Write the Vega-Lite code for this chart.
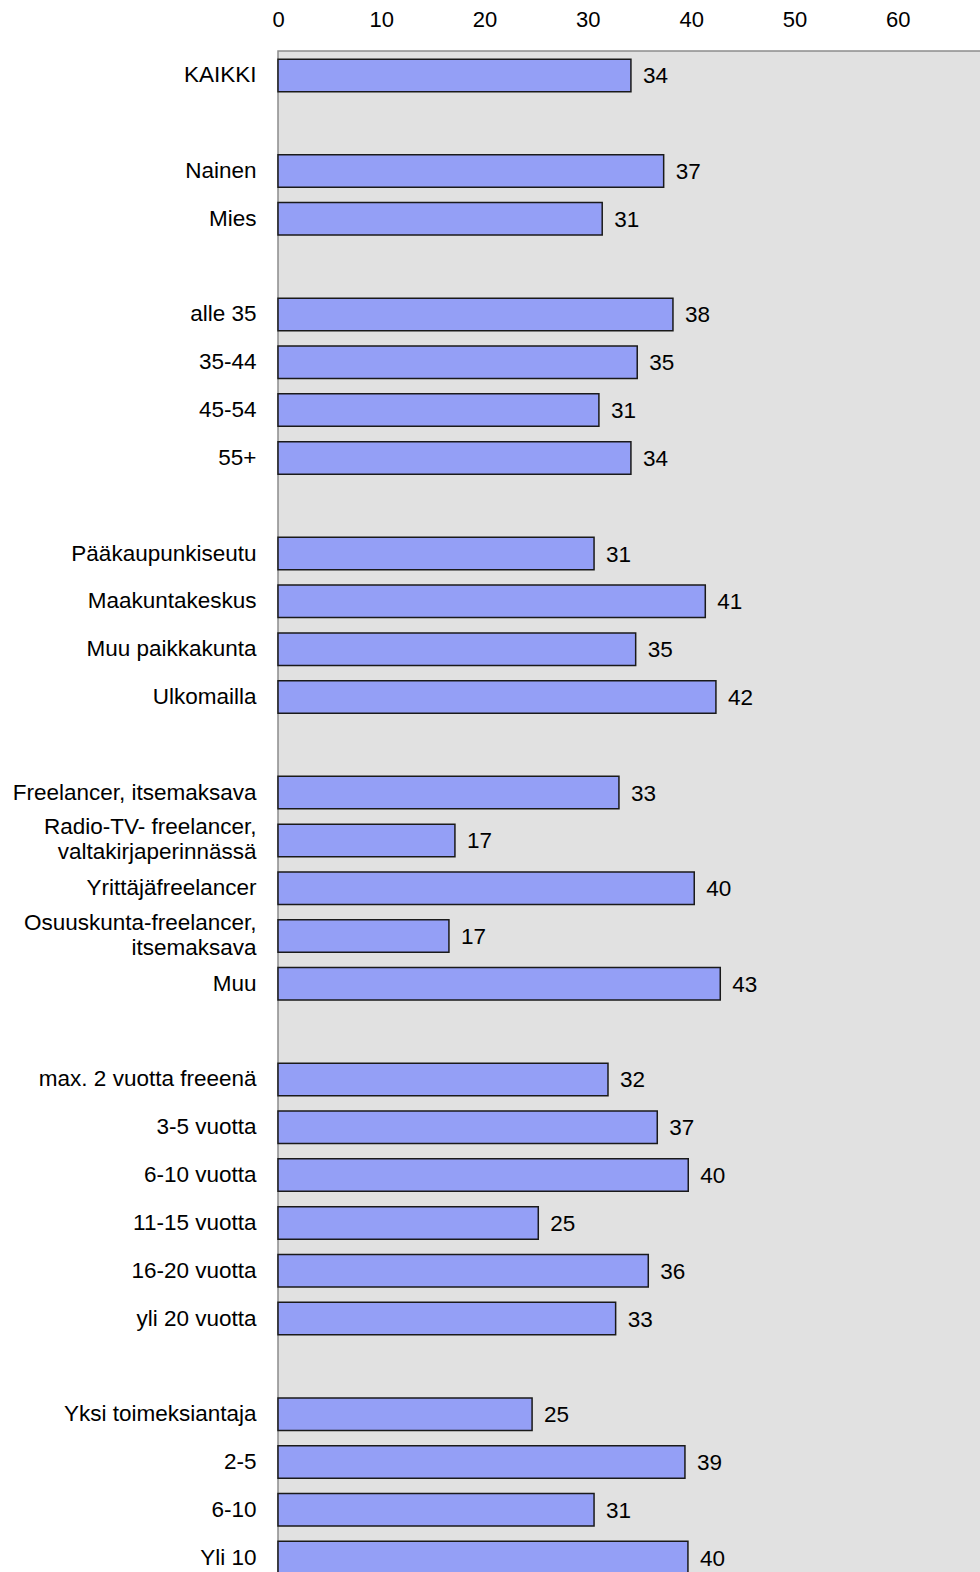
{
  "$schema": "https://vega.github.io/schema/vega-lite/v6.json",
  "autosize": {"type": "none"},
  "padding": {"left": 278, "top": 51, "right": 0, "bottom": 0},
  "width": 723,
  "height": 1531,
  "background": "white",
  "config": {
    "view": {"fill": "#E1E1E1", "stroke": "#8C8C8C", "strokeWidth": 1.5},
    "font": "Liberation Sans"
  },
  "data": {
    "values": [
      {"cat": "KAIKKI", "value": 34.17},
      {"cat": "Nainen", "value": 37.34},
      {"cat": "Mies", "value": 31.39},
      {"cat": "alle 35", "value": 38.24},
      {"cat": "35-44", "value": 34.78},
      {"cat": "45-54", "value": 31.07},
      {"cat": "55+", "value": 34.17},
      {"cat": "Pääkaupunkiseutu", "value": 30.6},
      {"cat": "Maakuntakeskus", "value": 41.37},
      {"cat": "Muu paikkakunta", "value": 34.63},
      {"cat": "Ulkomailla", "value": 42.4},
      {"cat": "Freelancer, itsemaksava", "value": 33.01},
      {"cat": "Radio-TV- freelancer,|valtakirjaperinnässä", "value": 17.13},
      {"cat": "Yrittäjäfreelancer", "value": 40.3},
      {"cat": "Osuuskunta-freelancer,|itsemaksava", "value": 16.55},
      {"cat": "Muu", "value": 42.82},
      {"cat": "max. 2 vuotta freeenä", "value": 31.95},
      {"cat": "3-5 vuotta", "value": 36.72},
      {"cat": "6-10 vuotta", "value": 39.72},
      {"cat": "11-15 vuotta", "value": 25.2},
      {"cat": "16-20 vuotta", "value": 35.85},
      {"cat": "yli 20 vuotta", "value": 32.69},
      {"cat": "Yksi toimeksiantaja", "value": 24.6},
      {"cat": "2-5", "value": 39.4},
      {"cat": "6-10", "value": 30.6},
      {"cat": "Yli 10", "value": 39.69}
    ]
  },
  "encoding": {
    "y": {
      "field": "cat",
      "type": "nominal",
      "scale": {
        "domain": ["KAIKKI", "_1", "Nainen", "Mies", "_2", "alle 35", "35-44", "45-54", "55+", "_3", "Pääkaupunkiseutu", "Maakuntakeskus", "Muu paikkakunta", "Ulkomailla", "_4", "Freelancer, itsemaksava", "Radio-TV- freelancer,|valtakirjaperinnässä", "Yrittäjäfreelancer", "Osuuskunta-freelancer,|itsemaksava", "Muu", "_5", "max. 2 vuotta freeenä", "3-5 vuotta", "6-10 vuotta", "11-15 vuotta", "16-20 vuotta", "yli 20 vuotta", "_6", "Yksi toimeksiantaja", "2-5", "6-10", "Yli 10"],
        "paddingInner": 0.32,
        "paddingOuter": 0.17
      },
      "axis": {
        "title": null,
        "ticks": false,
        "domain": false,
        "labelPadding": 22,
        "labelFontSize": 22.5,
        "labelColor": "#000000",
        "labelLineHeight": 25,
        "labelLimit": 400,
        "labelBaseline": {"condition": {"test": "indexof(datum.label, '|') >= 0", "value": "line-bottom"}, "value": "middle"},
        "labelExpr": "indexof(datum.label, '_') == 0 ? '' : split(datum.label, '|')"
      }
    },
    "x": {
      "field": "value",
      "type": "quantitative",
      "scale": {"domain": [0, 70], "nice": false},
      "axis": {
        "orient": "top",
        "title": null,
        "grid": false,
        "ticks": false,
        "domain": false,
        "values": [0, 10, 20, 30, 40, 50, 60],
        "labelPadding": 20,
        "labelFontSize": 22,
        "labelColor": "#000000",
        "labelFlush": false
      }
    }
  },
  "layer": [
    {
      "mark": {"type": "bar", "fill": "#949FF6", "stroke": "#1A1A1A", "strokeWidth": 1.5}
    },
    {
      "mark": {"type": "text", "align": "left", "baseline": "middle", "dx": 12, "dy": 1, "fontSize": 22.5, "color": "#000000"},
      "encoding": {"text": {"field": "value", "type": "quantitative", "format": ".0f"}}
    }
  ]
}
